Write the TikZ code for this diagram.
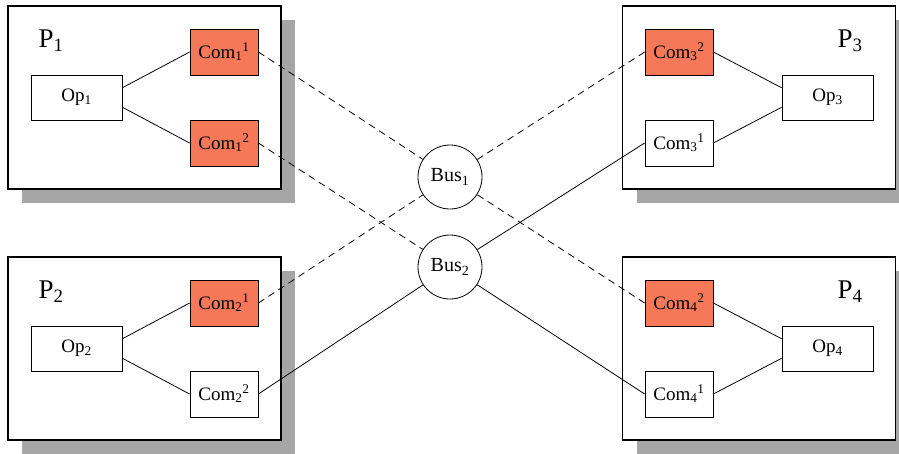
\documentclass[tikz,border=0pt]{standalone}
\usepackage{fontspec}
\setmainfont{Liberation Serif}
\usetikzlibrary{shadows}
\definecolor{comred}{RGB}{245,121,88}

\begin{document}
\begin{tikzpicture}[x=1pt,y=-1pt,
 every node/.style={font=\fontsize{19}{22}\selectfont},
 proc/.style={draw,line width=1.6pt,fill=white,minimum width=273pt,
   minimum height=183pt,
   drop shadow={shadow xshift=14pt,shadow yshift=-14pt,fill=black!35,opacity=1}},
 plabel/.style={font=\fontsize{27}{31}\selectfont},
 op/.style={draw,line width=.8pt,fill=white,minimum width=91pt,minimum height=45pt},
 com/.style={draw,line width=.8pt,fill=white,minimum width=68pt,minimum height=46pt,
   inner sep=0pt},
 hot/.style={fill=comred},
 bus/.style={draw,line width=.8pt,circle,fill=white,minimum size=64pt,inner sep=0pt,
   font=\fontsize{20}{23}\selectfont},
 link/.style={line width=.8pt},
 wire/.style={line width=.8pt,dash pattern=on 7pt off 5pt}]
 \useasboundingbox (0,0) rectangle (899,453);
 % processor boxes
 \foreach \i/\x/\y/\lx in {1/144.5/97.5/51,2/144.5/348.5/51,
                           3/759/97.5/850,4/759/348.5/850}{
   \node[proc] (p\i) at (\x,\y) {};
   \node[plabel] (pl\i) at (\lx,\y-57) {P\textsubscript{\i}};
 }
 % left side
 \node[op] (op1) at (76.5,97.5) {Op\textsubscript{1}};
 \node[com,hot] (c11) at (224,52) {Com\textsubscript{1}\textsuperscript{1}};
 \node[com,hot] (c12) at (224,143) {Com\textsubscript{1}\textsuperscript{2}};
 \node[op] (op2) at (76.5,348.5) {Op\textsubscript{2}};
 \node[com,hot] (c21) at (224,303) {Com\textsubscript{2}\textsuperscript{1}};
 \node[com] (c22) at (224,394) {Com\textsubscript{2}\textsuperscript{2}};
 % right side
 \node[op] (op3) at (827.5,97.5) {Op\textsubscript{3}};
 \node[com,hot] (c32) at (679,52) {Com\textsubscript{3}\textsuperscript{2}};
 \node[com] (c31) at (679,143) {Com\textsubscript{3}\textsuperscript{1}};
 \node[op] (op4) at (827.5,348.5) {Op\textsubscript{4}};
 \node[com,hot] (c42) at (679,303) {Com\textsubscript{4}\textsuperscript{2}};
 \node[com] (c41) at (679,394) {Com\textsubscript{4}\textsuperscript{1}};
 % buses
 \node[bus] (bus1) at (450,177) {Bus\textsubscript{1}};
 \node[bus] (bus2) at (450,267) {Bus\textsubscript{2}};
 % inside the processors
 \foreach \i in {1,2}{
   \draw[link] (op\i.12) -- (c\i1.west);
   \draw[link] (op\i.-12) -- (c\i2.west);
 }
 \foreach \i in {3,4}{
   \draw[link] (c\i2.east) -- (op\i.168);
   \draw[link] (c\i1.east) -- (op\i.192);
 }
 % to the buses
 \draw[wire] (c11.east) -- (bus1);
 \draw[wire] (c12.east) -- (bus2);
 \draw[wire] (c21.east) -- (bus1);
 \draw[link] (c22.east) -- (bus2);
 \draw[wire] (c32.west) -- (bus1);
 \draw[link] (c31.west) -- (bus2);
 \draw[wire] (c42.west) -- (bus1);
 \draw[link] (c41.west) -- (bus2);
\end{tikzpicture}
\end{document}
